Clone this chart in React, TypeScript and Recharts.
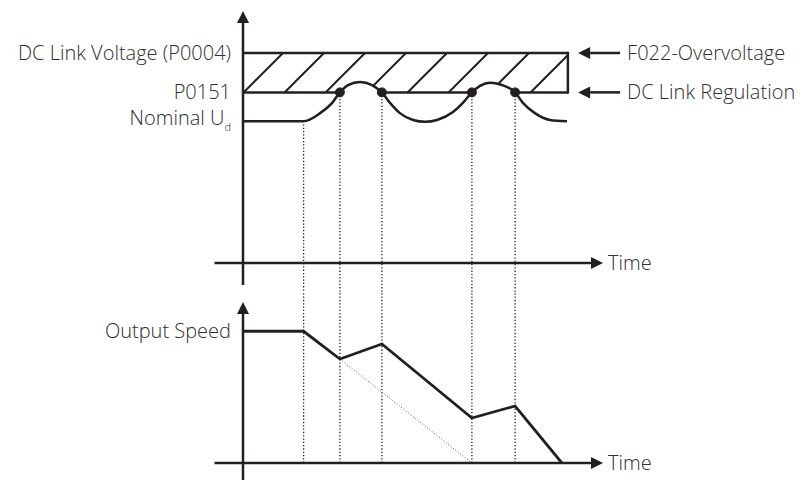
import React from "react";
import { ComposedChart, Area, Line, XAxis, YAxis, ReferenceLine } from "recharts";

const INK = "#231f20";
const TEXT = "#2e2e2e";
const FONT = "'Open Sans', sans-serif";
const FONT_SIZE = 20;

// shared time axis (arbitrary units)
const timeDomain = [0, 14];
const timeAxisStart = -0.95;
const timeAxisEnd = 12;
const eventTimes = [2.02, 3.23, 4.63, 7.63, 9.07];

// DC link voltage plot
const voltageDomain = [0, 960];
const voltageAxisStart = -84;
const voltageLevels = [540, 650, 800];
const voltageLabels = ["Nominal U", "P0151", "DC Link Voltage (P0004)"];
const bandEnd = 10.83;
const voltageTimes = [0, 2.02, 2.57, 2.97, 3.23, 3.5, 3.9, 4.3, 4.63, 4.9, 5.23, 5.67, 6.07, 6.47, 7.0, 7.33, 7.63, 7.9, 8.23, 8.63, 9.07, 9.33, 9.73, 10.23, 10.8];
const voltageValues = [540, 540, 571, 610, 650, 678, 690, 678, 650, 610, 571, 545, 538, 545, 575, 610, 650, 675, 687, 678, 650, 610, 571, 545, 540];
const regulationDots = [3.23, 4.63, 7.63, 9.07];
const rightLabels = ["F022-Overvoltage", "DC Link Regulation"];
const rightArrowTail = 12.57;
const rightArrowTip = 11.17;

// output speed plot
const speedDomain = [0, 2200];
const speedAxisStart = -240;
const speedLevels = [1800];
const speedLabels = ["Output Speed"];
const speedTimes = [0, 2.02, 3.23, 4.63, 7.63, 9.07, 10.63];
const speedValues = [1800, 1800, 1421, 1626, 615, 779, 0];
const rampTimes = [3.23, 7.63];
const rampValues = [1421, 0];

const band = [voltageLevels[1], voltageLevels[2]];
const voltageData = [
    ...voltageTimes.map((t, i) => ({ t, v: voltageValues[i], band })),
    { t: bandEnd, band },
];
const dotData = regulationDots.map((t) => ({ t, v: voltageLevels[1] }));
const speedData = speedTimes.map((t, i) => ({ t, s: speedValues[i] }));
const rampData = rampTimes.map((t, i) => ({ t, s: rampValues[i] }));

const arrowShape = (label?: string, labelAtTail?: boolean) => (props: any) => {
    const { x1, y1, x2, y2 } = props;
    const ang = Math.atan2(y2 - y1, x2 - x1);
    const len = 12;
    const half = 6;
    const bx = x2 - len * Math.cos(ang);
    const by = y2 - len * Math.sin(ang);
    const px = -Math.sin(ang) * half;
    const py = Math.cos(ang) * half;
    return (
        <g>
            <line x1={x1} y1={y1} x2={bx} y2={by} stroke={INK} strokeWidth={2.5} />
            <polygon points={`${x2},${y2} ${bx + px},${by + py} ${bx - px},${by - py}`} fill={INK} />
            {label && (
                <text
                    x={labelAtTail ? x1 + 7 : x2 + 5}
                    y={(labelAtTail ? y1 : y2) + 7}
                    fill={TEXT}
                    fontFamily={FONT}
                    fontWeight={300}
                    fontSize={FONT_SIZE}
                >
                    {label}
                </text>
            )}
        </g>
    );
};

const renderVoltageTick = (props: any) => {
    const { x, y, payload } = props;
    const i = voltageLevels.indexOf(payload.value);
    if (i === 0) {
        return (
            <text x={x} y={y + 4} textAnchor="end" fill={TEXT} fontFamily={FONT} fontWeight={300} fontSize={FONT_SIZE}>
                <tspan>{voltageLabels[i]}</tspan>
                <tspan dy={6} fontSize={11}>d</tspan>
            </text>
        );
    }
    return (
        <text x={x} y={y + 7} textAnchor="end" fill={TEXT} fontFamily={FONT} fontWeight={300} fontSize={FONT_SIZE}>
            {voltageLabels[i]}
        </text>
    );
};

const renderSpeedTick = (props: any) => {
    const { x, y, payload } = props;
    const i = speedLevels.indexOf(payload.value);
    return (
        <text x={x} y={y + 7} textAnchor="end" fill={TEXT} fontFamily={FONT} fontWeight={300} fontSize={FONT_SIZE}>
            {speedLabels[i]}
        </text>
    );
};

const dotted = { stroke: INK, strokeWidth: 1.3, strokeDasharray: "1.3 2" };

const App = () => {
    return (
        <div style={{ position: "absolute", left: 0, top: 0, width: 800, height: 480, background: "#fff" }}>
            <ComposedChart width={800} height={292} data={voltageData} margin={{ top: 11, right: 137, bottom: 29, left: 0 }}>
                <defs>
                    <pattern id="hatch" patternUnits="userSpaceOnUse" x={8} y={0} width={41} height={41}>
                        <path d="M-1,1 L1,-1 M0,41 L41,0 M40,42 L42,40" stroke={INK} strokeWidth={2} />
                    </pattern>
                </defs>
                <XAxis type="number" dataKey="t" domain={timeDomain} hide allowDataOverflow />
                <YAxis
                    type="number"
                    domain={voltageDomain}
                    ticks={voltageLevels}
                    interval={0}
                    width={243}
                    axisLine={false}
                    tickLine={false}
                    tickSize={6}
                    tickMargin={6}
                    tick={renderVoltageTick}
                    allowDataOverflow
                />
                <Area
                    type="linear"
                    dataKey="band"
                    stroke={INK}
                    strokeWidth={2.5}
                    fill="url(#hatch)"
                    fillOpacity={1}
                    isAnimationActive={false}
                />
                <Area
                    type="monotone"
                    dataKey="v"
                    baseValue={voltageLevels[0]}
                    stroke={INK}
                    strokeWidth={2.5}
                    fill="#ffffff"
                    fillOpacity={1}
                    isAnimationActive={false}
                />
                <ReferenceLine
                    segment={[{ x: bandEnd, y: voltageLevels[1] }, { x: bandEnd, y: voltageLevels[2] }]}
                    ifOverflow="visible"
                    stroke={INK}
                    strokeWidth={2.5}
                    strokeLinecap="square"
                />
                {eventTimes.map((t, i) => (
                    <ReferenceLine
                        key={`vd${t}`}
                        segment={[{ x: t, y: i === 0 ? 528 : voltageLevels[1] }, { x: t, y: -130 }]}
                        ifOverflow="visible"
                        {...dotted}
                    />
                ))}
                <ReferenceLine
                    segment={[{ x: timeAxisStart, y: 0 }, { x: timeAxisEnd, y: 0 }]}
                    ifOverflow="visible"
                    shape={arrowShape("Time")}
                />
                <ReferenceLine
                    segment={[{ x: 0, y: voltageAxisStart }, { x: 0, y: voltageDomain[1] }]}
                    ifOverflow="visible"
                    shape={arrowShape()}
                />
                {rightLabels.map((label, i) => (
                    <ReferenceLine
                        key={label}
                        segment={[{ x: rightArrowTail, y: voltageLevels[2 - i] }, { x: rightArrowTip, y: voltageLevels[2 - i] }]}
                        ifOverflow="visible"
                        shape={arrowShape(label, true)}
                    />
                ))}
                <Line
                    data={dotData}
                    dataKey="v"
                    stroke="none"
                    dot={{ r: 4.5, fill: INK, stroke: INK, strokeWidth: 1 }}
                    isAnimationActive={false}
                />
            </ComposedChart>
            <ComposedChart width={800} height={188} margin={{ top: 10, right: 137, bottom: 17, left: 0 }}>
                <XAxis type="number" dataKey="t" domain={timeDomain} hide allowDataOverflow />
                <YAxis
                    type="number"
                    domain={speedDomain}
                    ticks={speedLevels}
                    interval={0}
                    width={243}
                    axisLine={false}
                    tickLine={false}
                    tickSize={6}
                    tickMargin={6}
                    tick={renderSpeedTick}
                    allowDataOverflow
                />
                {eventTimes.map((t) => (
                    <ReferenceLine
                        key={`sd${t}`}
                        segment={[{ x: t, y: 2500 }, { x: t, y: 0 }]}
                        ifOverflow="visible"
                        {...dotted}
                    />
                ))}
                <Line
                    data={rampData}
                    dataKey="s"
                    type="linear"
                    stroke="#555"
                    strokeWidth={1}
                    strokeDasharray="1 2"
                    dot={false}
                    isAnimationActive={false}
                />
                <ReferenceLine
                    segment={[{ x: timeAxisStart, y: 0 }, { x: timeAxisEnd, y: 0 }]}
                    ifOverflow="visible"
                    shape={arrowShape("Time")}
                />
                <ReferenceLine
                    segment={[{ x: 0, y: speedAxisStart }, { x: 0, y: speedDomain[1] }]}
                    ifOverflow="visible"
                    shape={arrowShape()}
                />
                <Line
                    data={speedData}
                    dataKey="s"
                    type="linear"
                    stroke={INK}
                    strokeWidth={2.8}
                    strokeLinejoin="miter"
                    dot={false}
                    isAnimationActive={false}
                />
            </ComposedChart>
        </div>
    );
};

export default App;
